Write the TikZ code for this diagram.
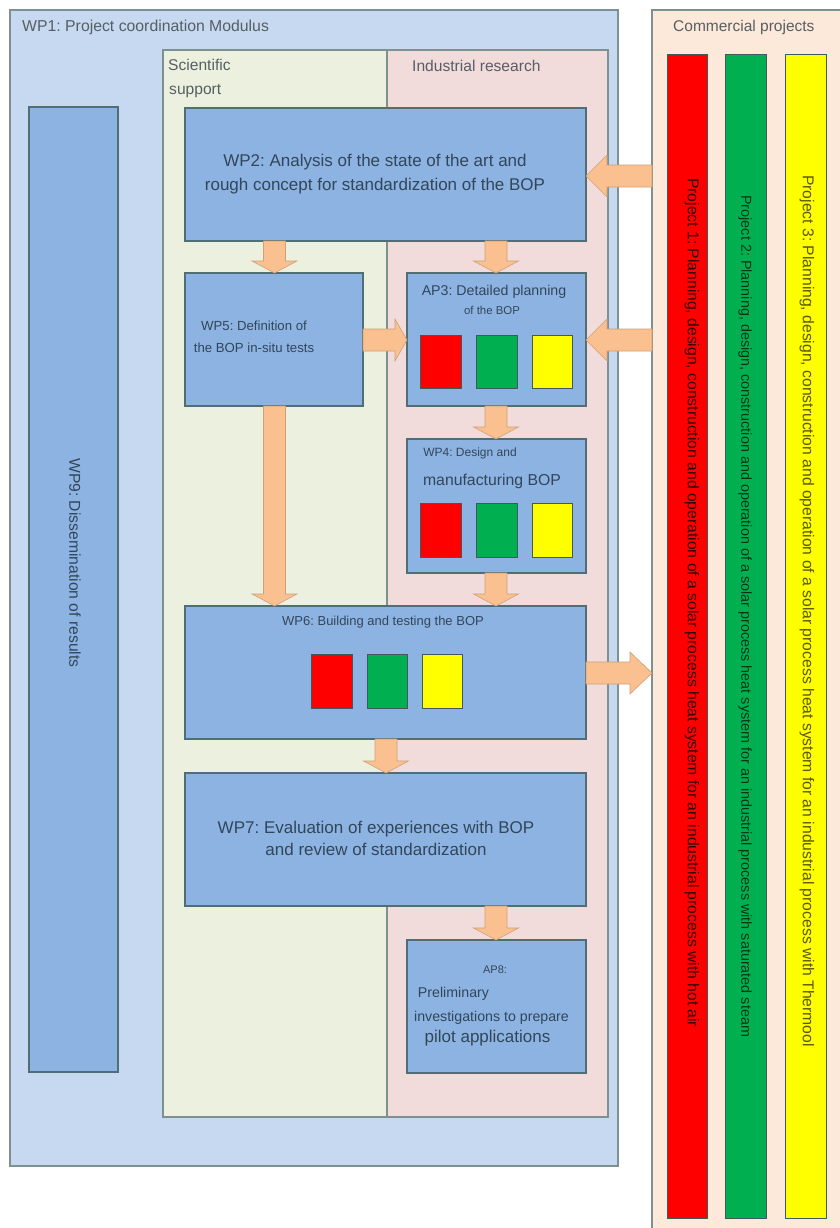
\documentclass[tikz,border=0pt]{standalone}
\usepackage{fontspec}
\setmainfont{Liberation Sans}
\frenchspacing
\usetikzlibrary{calc}
\definecolor{wpbg}{RGB}{198,217,240}
\definecolor{scibg}{RGB}{235,241,222}
\definecolor{indbg}{RGB}{242,220,219}
\definecolor{combg}{RGB}{253,233,217}
\definecolor{boxbg}{RGB}{141,179,226}
\definecolor{boxln}{RGB}{80,110,118}
\definecolor{frameln}{RGB}{125,145,145}
\definecolor{arrbg}{RGB}{250,192,143}
\definecolor{arrln}{RGB}{205,160,120}
\definecolor{pred}{RGB}{255,0,0}
\definecolor{pgreen}{RGB}{0,176,80}
\definecolor{pyellow}{RGB}{255,255,0}
\definecolor{txt}{RGB}{50,70,90}
\definecolor{lbl}{RGB}{85,95,100}
\newcommand{\rbox}[6]{\node[#6, minimum width={(#4)-(#2)}, minimum height={(#5)-(#3)}, anchor=north west] (#1) at (#2,#3) {};}
% down block arrow: x, from node, to node
\newcommand{\varr}[3]{\draw[blk] let \p1=(#2.south), \p2=(#3.north) in
  ({#1pt-11pt},\y1) -- ({#1pt+11pt},\y1) -- ({#1pt+11pt},\y2+12pt) -- ({#1pt+22.5pt},\y2+12pt) -- (#1pt,\y2) -- ({#1pt-22.5pt},\y2+12pt) -- ({#1pt-11pt},\y2+12pt) -- cycle;}
% left-pointing block arrow: y, tail node (west), tip node (east)
\newcommand{\larr}[4]{\draw[blk] let \p1=(#2.west), \p2=(#3.east) in
  (\x1,{-#1pt+11pt}) -- (\x1,{-#1pt-11pt}) -- ({\x2+#4pt},{-#1pt-11pt}) -- ({\x2+#4pt},{-#1pt-21pt}) -- (\x2,-#1pt) -- ({\x2+#4pt},{-#1pt+21pt}) -- ({\x2+#4pt},{-#1pt+11pt}) -- cycle;}
% right-pointing block arrow: y, tail node (east), tip node (west)
\newcommand{\rarr}[4]{\draw[blk] let \p1=(#2.east), \p2=(#3.west) in
  (\x1,{-#1pt+11pt}) -- (\x1,{-#1pt-11pt}) -- ({\x2-#4pt},{-#1pt-11pt}) -- ({\x2-#4pt},{-#1pt-21pt}) -- (\x2,-#1pt) -- ({\x2-#4pt},{-#1pt+21pt}) -- ({\x2-#4pt},{-#1pt+11pt}) -- cycle;}
\tikzset{
  frame/.style={draw=frameln, line width=1.3pt, inner sep=0, outer sep=0},
  wpbox/.style={draw=boxln, line width=1.2pt, fill=boxbg, inner sep=0, outer sep=0},
  sq/.style={draw=boxln!80!black, line width=1pt, inner sep=0, outer sep=0},
  blk/.style={fill=arrbg, draw=arrln, line width=0.6pt},
  lab/.style={inner sep=0, anchor=base west, text=lbl},
  bt/.style={inner sep=0, text=txt, align=center},
  pt/.style={inner sep=0, rotate=-90, anchor=west},
}
\begin{document}
\begin{tikzpicture}[x=1pt,y=-1pt]
\useasboundingbox (0,0) rectangle (840,1228);
\clip (0,0) rectangle (840,1228);
\fill[white] (0,0) rectangle (840,1228);
% containers
\rbox{wp1}{10}{10}{618}{1166}{frame, fill=wpbg}
\rbox{comm}{652}{10}{870}{1260}{frame, fill=combg}
\rbox{sci}{163}{50}{387}{1117}{frame, fill=scibg}
\rbox{ind}{387}{50}{608}{1117}{frame, fill=indbg}
\node[lab, font=\fontsize{15.8}{18}\selectfont] (wp1t) at (22,32) {WP1: Project coordination Modulus};
\node[lab, font=\fontsize{15.5}{18}\selectfont] (commt) at (673,32) {Commercial projects};
\node[lab, font=\fontsize{15.6}{18}\selectfont] (scit1) at (168,71) {Scientific};
\node[lab, font=\fontsize{15.6}{18}\selectfont] (scit2) at (169,95) {support};
\node[lab, font=\fontsize{15.6}{18}\selectfont] (indt) at (412,72) {Industrial research};
% project bars
\rbox{p1}{667}{55}{707}{1218}{sq, fill=pred}
\rbox{p2}{725}{55}{766}{1218}{sq, fill=pgreen}
\rbox{p3}{785}{55}{826}{1218}{sq, fill=pyellow}
\node[pt, font=\fontsize{15.7}{18}\selectfont, text=black!80!red] (p1t) at (692,178) {Project 1: Planning, design, construction and operation of a solar process heat system for an industrial process with hot air};
\node[pt, font=\fontsize{14.4}{17}\selectfont, text=black!70!pgreen] (p2t) at (745,195) {Project 2: Planning, design, construction and operation of a solar process heat system for an industrial process with saturated steam};
\node[pt, font=\fontsize{15.7}{18}\selectfont, text=black!65!pyellow] (p3t) at (807,175) {Project 3: Planning, design, construction and operation of a solar process heat system for an industrial process with Thermool};
% WP9
\rbox{wp9}{29}{107}{118}{1072}{wpbox}
\node[pt, font=\fontsize{15.7}{18}\selectfont, text=txt] (wp9t) at (75,458) {WP9: Dissemination of results};
% work packages
\rbox{wp2}{185}{108}{586}{241}{wpbox}
\node[bt, font=\fontsize{17}{24}\selectfont] (wp2t) at (375,174) {WP2: Analysis of the state of the art and\\rough concept for standardization of the BOP};
\rbox{wp5}{185}{273}{363}{406}{wpbox}
\node[bt, font=\fontsize{13.2}{22}\selectfont] (wp5t) at (254,337) {WP5: Definition of\\the BOP in-situ tests};
\rbox{ap3}{407}{273}{586}{406}{wpbox}
\node[bt, font=\fontsize{14.2}{16}\selectfont] (ap3t1) at (494,292) {AP3: Detailed planning};
\node[bt, font=\fontsize{11.4}{13}\selectfont] (ap3t2) at (492,310) {of the BOP};
\rbox{wp4}{407}{439}{586}{573}{wpbox}
\node[bt, font=\fontsize{12}{14}\selectfont] (wp4t1) at (470,453) {WP4: Design and};
\node[bt, font=\fontsize{15.8}{18}\selectfont] (wp4t2) at (492,481) {manufacturing BOP};
\rbox{wp6}{185}{606}{586}{739}{wpbox}
\node[bt, font=\fontsize{13}{15}\selectfont] (wp6t) at (383,622) {WP6: Building and testing the BOP};
\rbox{wp7}{185}{773}{586}{906}{wpbox}
\node[bt, font=\fontsize{17}{22}\selectfont] (wp7t) at (376,838) {WP7: Evaluation of experiences with BOP\\and review of standardization};
\rbox{ap8}{407}{940}{586}{1073}{wpbox}
\node[bt, font=\fontsize{11}{13}\selectfont] (ap8t1) at (495,970) {AP8:};
\node[bt, font=\fontsize{14.2}{16}\selectfont] (ap8t2) at (453.5,994) {Preliminary};
\node[bt, font=\fontsize{14.2}{16}\selectfont] (ap8t3) at (491.5,1018) {investigations to prepare};
\node[bt, font=\fontsize{17}{19}\selectfont] (ap8t4) at (487.5,1038) {pilot applications};
% coloured squares
\rbox{a3r}{420}{335}{461}{388}{sq, fill=pred}
\rbox{a3g}{476}{335}{517}{388}{sq, fill=pgreen}
\rbox{a3y}{532}{335}{572}{388}{sq, fill=pyellow}
\rbox{w4r}{420}{503}{461}{557}{sq, fill=pred}
\rbox{w4g}{476}{503}{517}{557}{sq, fill=pgreen}
\rbox{w4y}{532}{503}{572}{557}{sq, fill=pyellow}
\rbox{w6r}{311}{654}{352}{708}{sq, fill=pred}
\rbox{w6g}{367}{654}{407}{708}{sq, fill=pgreen}
\rbox{w6y}{422}{654}{462}{708}{sq, fill=pyellow}
% block arrows
\varr{274.5}{wp2}{wp5}
\varr{496}{wp2}{ap3}
\varr{496}{ap3}{wp4}
\varr{496}{wp4}{wp6}
\varr{274.5}{wp5}{wp6}
\varr{386}{wp6}{wp7}
\varr{496}{wp7}{ap8}
\larr{176}{comm}{wp2}{21}
\larr{340}{comm}{ap3}{21}
\rarr{340}{wp5}{ap3}{12}
\rarr{673}{wp6}{comm}{22}
\end{tikzpicture}
\end{document}
